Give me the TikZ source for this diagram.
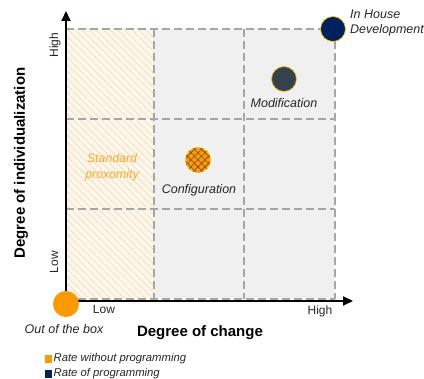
\documentclass[tikz,border=0pt]{standalone}
\usepackage{fontspec}
\setmainfont{Liberation Sans}
\usetikzlibrary{arrows.meta,patterns.meta}
\definecolor{boxorange}{HTML}{FF9900}
\definecolor{progblue}{HTML}{002060}
\definecolor{modslate}{HTML}{2E3A48}
\definecolor{cellgray}{HTML}{F0F0F0}
\definecolor{gridgray}{HTML}{A6A6A6}
\definecolor{hatchtan}{HTML}{F3DDB5}
\definecolor{labeltext}{HTML}{262626}
\tikzset{
	gridline/.style={gridgray, line width=1.3pt, dash pattern=on 8pt off 4pt},
	axis/.style={line width=2pt, -{Triangle[length=10pt,width=9pt]}},
	rate/.style={circle, minimum size=25pt, inner sep=0pt, draw=yellow!60!orange, line width=0.7pt},
	caption/.style={font=\fontsize{12.5}{15}\selectfont\itshape, text=labeltext, align=center},
	ticklabel/.style={font=\fontsize{12}{14}\selectfont, text=labeltext},
	axistitle/.style={font=\fontsize{15}{18}\selectfont\bfseries},
	keytext/.style={font=\fontsize{11.3}{13}\selectfont\itshape, text=labeltext, anchor=west, inner sep=1pt},
}
\begin{document}
\begin{tikzpicture}[x=1pt, y=-1pt]
	\useasboundingbox (0,0) rectangle (424,379);
	% quadrants
	\fill[cellgray] (154,29) rectangle (335,299);
	\fill[hatchtan!25] (66,29) rectangle (154,299);
	\fill[pattern={Lines[angle=-45,distance=5pt,line width=0.7pt]}, pattern color=hatchtan] (66,29) rectangle (154,299);
	\foreach \x in {154,244,335} \draw[gridline] (\x,29) -- (\x,299);
	\foreach \y in {29,119,209,299} \draw[gridline] (66,\y) -- (335,\y);
	% axes
	\coordinate (origin) at (66,301);
	\coordinate (ytip) at (66,11);
	\coordinate (xtip) at (353,301);
	\draw[axis] (origin) -- (ytip);
	\draw[axis] (origin) -- (xtip);
	\node[ticklabel] (xlow) at (104,309) {Low};
	\node[ticklabel] (xhigh) at (320,311) {High};
	\node[ticklabel, rotate=90] (ylow) at (54,262) {Low};
	\node[ticklabel, rotate=90] (yhigh) at (55,45) {High};
	\node[axistitle] (xtitle) at (200,333) {Degree of change};
	\node[axistitle, rotate=90] (ytitle) at (21,163) {Degree of individualization};
	% rates
	\node[rate, fill=boxorange, draw=none, minimum size=26pt] (outbox) at (66,304) {};
	\node[caption] (outlabel) at (64,329) {Out of the box};
	\node[rate, fill=boxorange,
		postaction={pattern={Lines[angle=45,distance=5pt,line width=0.6pt]}, pattern color=brown!60!black},
		postaction={pattern={Lines[angle=-45,distance=5pt,line width=0.6pt]}, pattern color=brown!60!black}] (config) at (198,160) {};
	\node[caption] (configlabel) at (199,190) {Configuration};
	\node[rate, fill=modslate,
		postaction={pattern={Dots[distance=2pt,radius=0.45pt]}, pattern color=gray!80}] (modif) at (284,79) {};
	\node[caption] (modiflabel) at (284,103) {Modification};
	\node[rate, fill=progblue] (inhouse) at (333,29) {};
	\node[caption, align=left, anchor=west, inner sep=0pt] (inhouselabel) at (350,23.5) {In House\\Development};
	\node[caption, text=boxorange!85!white, font=\fontsize{12.3}{16}\selectfont\itshape] (standard) at (112,167) {Standard\\proxomity};
	% legend
	\node[fill=boxorange, minimum size=7.5pt, inner sep=0pt] (keyorange) at (48.5,359) {};
	\node[keytext] at (keyorange.east) {Rate without programming};
	\node[fill=progblue, minimum size=7.5pt, inner sep=0pt] (keyblue) at (48.5,374) {};
	\node[keytext] at (keyblue.east) {Rate of programming};
\end{tikzpicture}
\end{document}
